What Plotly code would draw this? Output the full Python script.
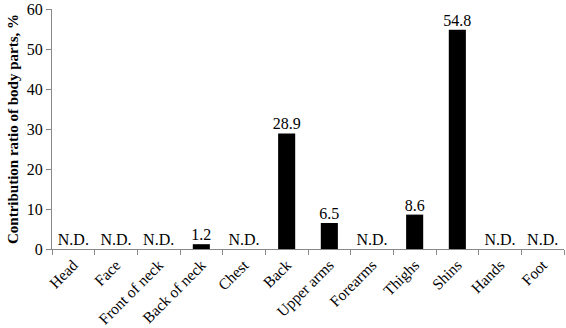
import plotly.graph_objects as go

categories = ["Head", "Face", "Front of neck", "Back of neck", "Chest", "Back",
              "Upper arms", "Forearms", "Thighs", "Shins", "Hands", "Foot"]
values = [0, 0, 0, 1.2, 0, 28.9, 6.5, 0, 8.6, 54.8, 0, 0]
labels = ["N.D.", "N.D.", "N.D.", "1.2", "N.D.", "28.9", "6.5", "N.D.", "8.6", "54.8", "N.D.", "N.D."]

font = "Liberation Serif, Times New Roman, serif"

fig = go.Figure()
fig.add_trace(go.Bar(x=categories, y=values, marker=dict(color="black", line=dict(width=0)),
                     width=0.4, showlegend=False, hoverinfo="skip"))
fig.add_trace(go.Scatter(x=categories, y=values, mode="text", text=labels,
                         textposition="top center",
                         textfont=dict(family=font, size=16, color="black"),
                         showlegend=False, cliponaxis=False, hoverinfo="skip"))

fig.update_layout(
    width=566, height=328,
    margin=dict(l=52, r=2, t=9, b=79),
    plot_bgcolor="white", paper_bgcolor="white",
    font=dict(family=font, size=15, color="black"),
)
fig.update_xaxes(
    type="category", tickangle=-45, tickson="boundaries", ticks="outside",
    ticklen=5, tickcolor="#888", showline=True, linecolor="#888", linewidth=1,
    showgrid=False, tickfont=dict(family=font, size=15.5), range=[-0.5, 11.5],
    automargin=False,
)
fig.update_yaxes(
    range=[0, 60], dtick=10, ticks="outside", ticklen=5, tickcolor="#888",
    showline=True, linecolor="#888", linewidth=1, showgrid=False, zeroline=False,
    tickfont=dict(family=font, size=16), automargin=False,
    title=dict(text="<b>Contribution ratio of body parts, %</b>", font=dict(family=font, size=15), standoff=4),
)

fig.write_html("out.html", config={"displayModeBar": False},
               post_script="document.body.style.margin='0';document.body.style.overflow='hidden';")
